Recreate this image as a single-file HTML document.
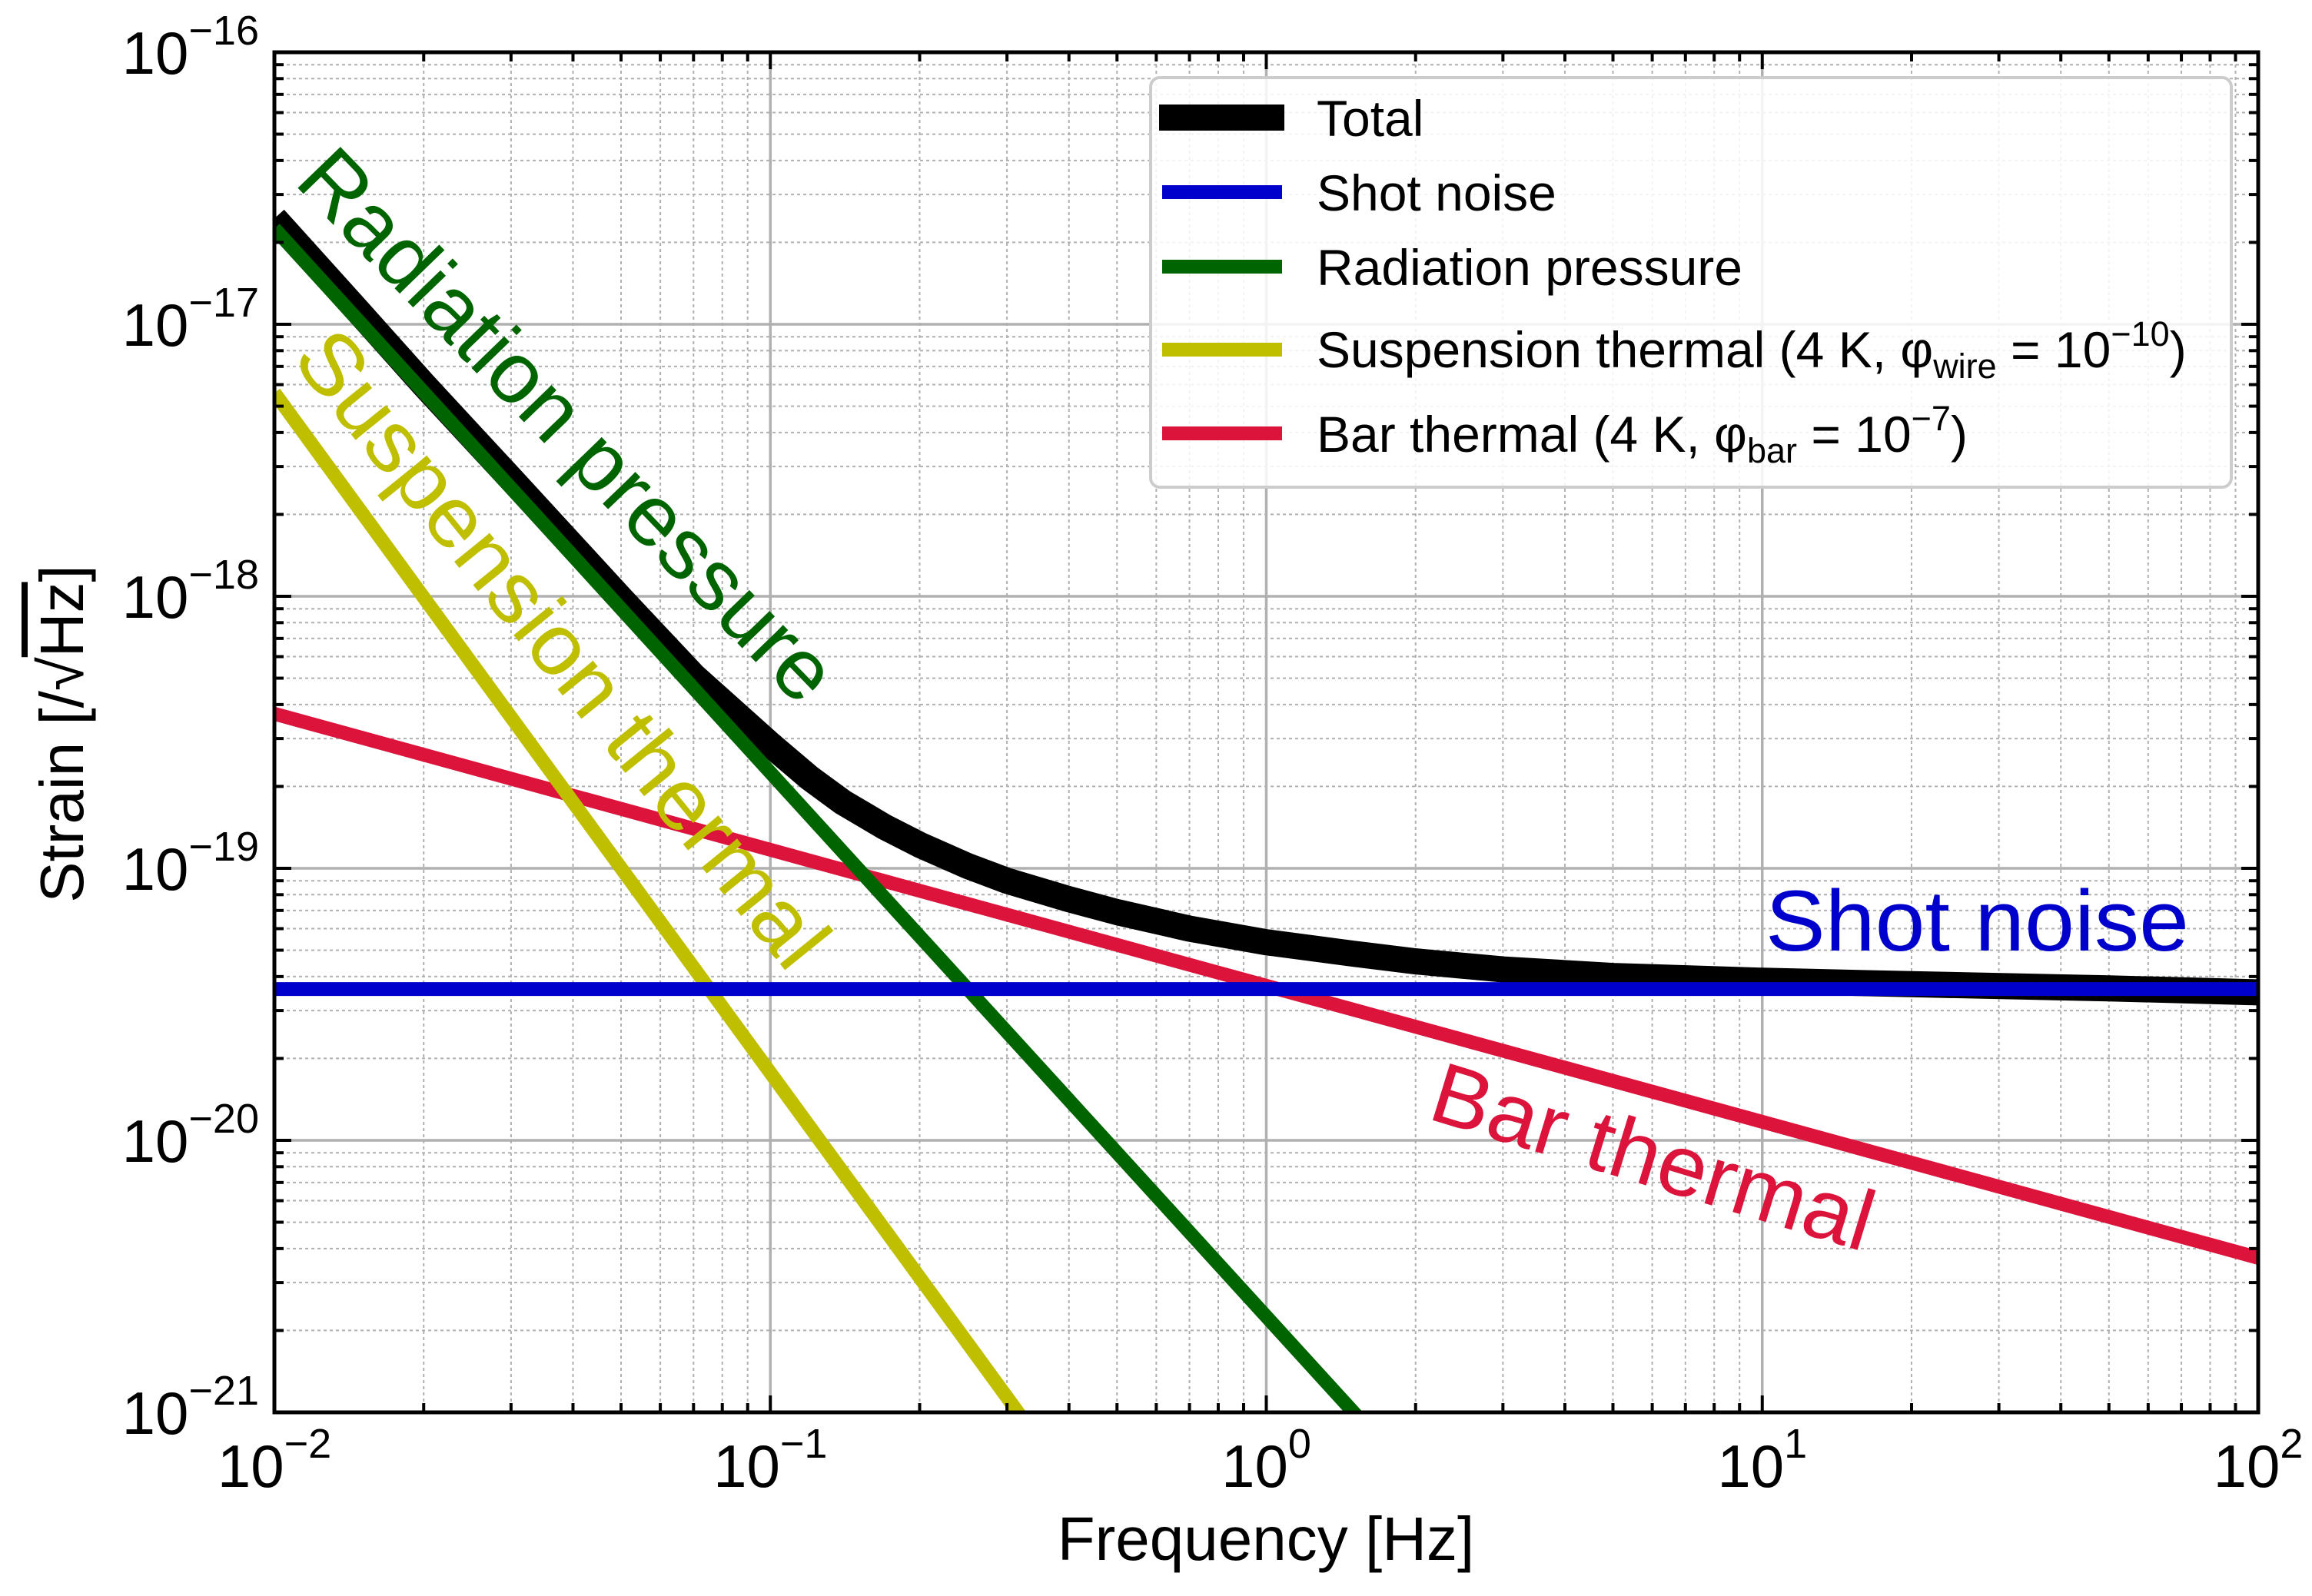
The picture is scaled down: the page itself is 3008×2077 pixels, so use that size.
<!DOCTYPE html>
<html><head><meta charset="utf-8"><style>
html,body{margin:0;padding:0;background:#fff;width:3008px;height:2077px;overflow:hidden;}
svg{display:block;overflow:hidden;font-family:"Liberation Sans",Arial,sans-serif;}
</style></head><body>
<svg id="chart" width="3008" height="2077" viewBox="0 0 3008 2077" xmlns="http://www.w3.org/2000/svg">
<defs><clipPath id="plotclip"><rect x="357" y="68" width="2581" height="1770"/></clipPath></defs>
<g id="grid"></g>
<g id="series" clip-path="url(#plotclip)"></g>
<g id="annots">
  <text transform="translate(381,238) rotate(46)" font-size="112" fill="#006400" textLength="950" lengthAdjust="spacingAndGlyphs">Radiation pressure</text>
  <text transform="translate(378,468) rotate(51)" font-size="112" fill="#bfbf00" textLength="1030" lengthAdjust="spacingAndGlyphs">Suspension thermal</text>
  <text x="2297" y="1237" font-size="112" fill="#0000cd" textLength="551" lengthAdjust="spacingAndGlyphs">Shot noise</text>
  <text transform="translate(1855,1455) rotate(17)" font-size="112" fill="#dc143c" textLength="595" lengthAdjust="spacingAndGlyphs">Bar thermal</text>
</g>
<rect x="357" y="68" width="2581" height="1770" fill="none" stroke="#000" stroke-width="5"/>
<g id="ticks"></g>
<g id="legend">
  <rect x="1497" y="101" width="1406" height="533" rx="12" fill="rgba(255,255,255,0.85)" stroke="#cccccc" stroke-width="4"/>
  <line x1="1508" y1="153" x2="1671" y2="153" stroke="#000" stroke-width="34"/>
  <text x="1713" y="177" font-size="66">Total</text>
  <line x1="1512" y1="250" x2="1668" y2="250" stroke="#0000cd" stroke-width="18"/>
  <text x="1713" y="274" font-size="66">Shot noise</text>
  <line x1="1512" y1="347" x2="1668" y2="347" stroke="#006400" stroke-width="18"/>
  <text x="1713" y="371" font-size="66">Radiation pressure</text>
  <line x1="1512" y1="455" x2="1668" y2="455" stroke="#bfbf00" stroke-width="18"/>
  <text x="1713" y="478" font-size="66">Suspension thermal (4 K, φ<tspan font-size="45" dy="14">wire</tspan><tspan dy="-14"> = 10</tspan><tspan font-size="45" dy="-28">−10</tspan><tspan dy="28">)</tspan></text>
  <line x1="1512" y1="564" x2="1668" y2="564" stroke="#dc143c" stroke-width="18"/>
  <text x="1713" y="588" font-size="66">Bar thermal (4 K, φ<tspan font-size="45" dy="14">bar</tspan><tspan dy="-14"> = 10</tspan><tspan font-size="45" dy="-28">−7</tspan><tspan dy="28">)</tspan></text>
</g>
<text x="1647" y="2030" font-size="80" text-anchor="middle">Frequency [Hz]</text>
<text transform="translate(108,955) rotate(-90)" font-size="80" text-anchor="middle">Strain [/√<tspan text-decoration="overline">Hz</tspan>]</text>
</svg>
<script>
const xTickExps = [-2, -1, 0, 1, 2];
const yTickExps = [-16, -17, -18, -19, -20, -21];
const lineFreqs = [0.01, 100];
const shotNoise = [3.6e-20, 3.6e-20];
const radPressure = [2.25e-17, 2.25e-25];
const suspThermal = [5.6e-18, 5.6e-28];
const barThermal = [3.7e-19, 3.7e-21];
const totalFreqs = [0.01, 0.015, 0.02, 0.03, 0.05, 0.07, 0.1, 0.12, 0.14, 0.17, 0.2, 0.25, 0.3, 0.4, 0.5, 0.7, 1, 1.5, 2, 3, 5, 10, 20, 50, 100];
const totalValues = [2.45e-17, 1.08e-17, 6.0e-18, 2.7e-18, 9.8e-19, 5.1e-19, 2.85e-19, 2.15e-19, 1.75e-19, 1.42e-19, 1.22e-19, 1.02e-19, 9.0e-20, 7.7e-20, 6.9e-20, 6.0e-20, 5.35e-20, 4.85e-20, 4.55e-20, 4.25e-20, 4.02e-20, 3.86e-20, 3.75e-20, 3.62e-20, 3.5e-20];

const NS = 'http://www.w3.org/2000/svg';
const L = 357, R = 2938, T = 68, B = 1838;
function xs(f){ return L + (Math.log10(f) + 2) / 4 * (R - L); }
function ys(v){ return T + (-16 - Math.log10(v)) / 5 * (B - T); }
function mk(tag, attrs, parent){ const e = document.createElementNS(NS, tag); for (const k in attrs) e.setAttribute(k, attrs[k]); parent.appendChild(e); return e; }

const grid = document.getElementById('grid');
const ticks = document.getElementById('ticks');
const svg = document.getElementById('chart');
for (let d = -2; d < 2; d++) {
  for (let m = 2; m <= 9; m++) {
    const x = xs(m * Math.pow(10, d));
    const g = mk('line', {x1:x, x2:x, y1:T, y2:B, stroke:'#b0b0b0', 'stroke-width':2, 'stroke-dasharray':'4,4'}, grid);
    
    
    const t1 = mk('line', {x1:x, x2:x, y1:B, y2:B-12, stroke:'#000', 'stroke-width':4}, ticks);
    
    
    const t2 = mk('line', {x1:x, x2:x, y1:T, y2:T+12, stroke:'#000', 'stroke-width':4}, ticks);
    
    
  }
}
for (let d = -21; d < -16; d++) {
  for (let m = 2; m <= 9; m++) {
    const y = ys(m * Math.pow(10, d));
    const g = mk('line', {x1:L, x2:R, y1:y, y2:y, stroke:'#b0b0b0', 'stroke-width':2, 'stroke-dasharray':'4,4'}, grid);
    
    
    const t1 = mk('line', {x1:L, x2:L+12, y1:y, y2:y, stroke:'#000', 'stroke-width':4}, ticks);
    
    
    const t2 = mk('line', {x1:R, x2:R-12, y1:y, y2:y, stroke:'#000', 'stroke-width':4}, ticks);
    
    
  }
}
xTickExps.forEach(e => {
  const x = xs(Math.pow(10, e));
  const g = mk('line', {x1:x, x2:x, y1:T, y2:B, stroke:'#b0b0b0', 'stroke-width':3.5}, grid);
  
  
  const t = mk('line', {x1:x, x2:x, y1:B, y2:B-22, stroke:'#000', 'stroke-width':4}, ticks);
  
  
  const t2 = mk('line', {x1:x, x2:x, y1:T, y2:T+22, stroke:'#000', 'stroke-width':4}, ticks);
  
  
  const lab = mk('text', {x:x, y:1935, 'font-size':78, 'text-anchor':'middle'}, svg);
  
  
  lab.innerHTML = '10<tspan font-size="54" dy="-38">' + (e < 0 ? '−' + (-e) : e) + '</tspan>';
});
yTickExps.forEach(e => {
  const y = ys(Math.pow(10, e));
  const g = mk('line', {x1:L, x2:R, y1:y, y2:y, stroke:'#b0b0b0', 'stroke-width':3.5}, grid);
  
  
  const t = mk('line', {x1:L, x2:L+22, y1:y, y2:y, stroke:'#000', 'stroke-width':4}, ticks);
  
  
  const t2 = mk('line', {x1:R, x2:R-22, y1:y, y2:y, stroke:'#000', 'stroke-width':4}, ticks);
  
  
  const lab = mk('text', {x:337, y:y+28, 'font-size':78, 'text-anchor':'end'}, svg);
  
  
  lab.innerHTML = '10<tspan font-size="54" dy="-38">−' + (-e) + '</tspan>';
});

const series = document.getElementById('series');
function drawLine(fr, vals, color, w, name){
  const pts = fr.map((f, i) => xs(f).toFixed(1) + ',' + ys(vals[i]).toFixed(1)).join(' ');
  const p = mk('polyline', {points:pts, fill:'none', stroke:color, 'stroke-width':w, 'stroke-linejoin':'round'}, series);
  
  
}
drawLine(totalFreqs, totalValues, '#000000', 34, 'total-line');
drawLine(lineFreqs, barThermal, '#dc143c', 18, 'bar-thermal-line');
drawLine(lineFreqs, suspThermal, '#bfbf00', 18, 'suspension-thermal-line');
drawLine(lineFreqs, radPressure, '#006400', 18, 'radiation-pressure-line');
drawLine(lineFreqs, shotNoise, '#0000cd', 18, 'shot-noise-line');
</script>
</body></html>
